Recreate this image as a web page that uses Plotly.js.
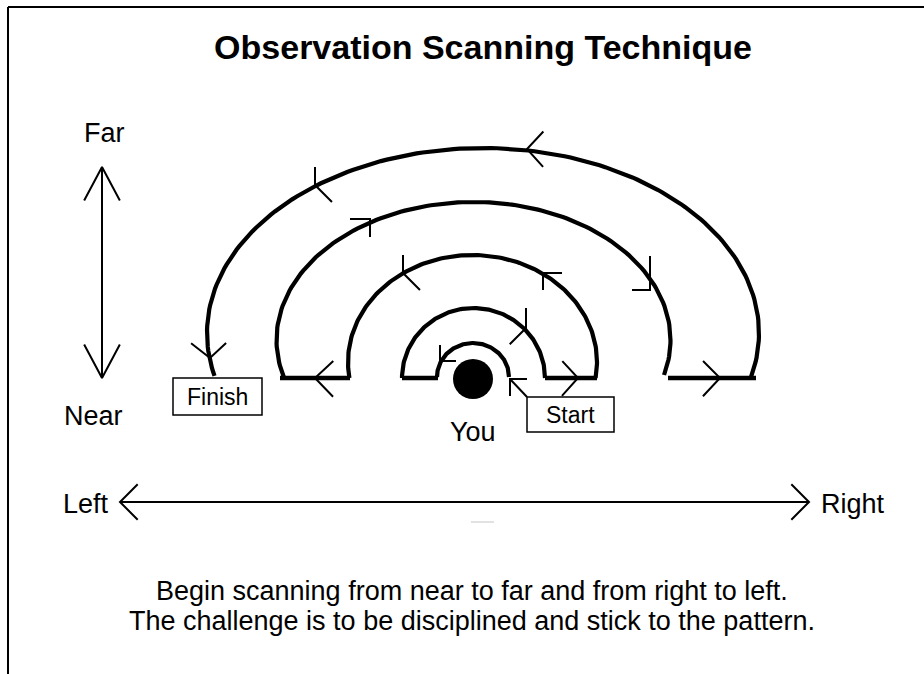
<!DOCTYPE html>
<html>
<head>
<meta charset="utf-8">
<script src="https://cdn.plot.ly/plotly-3.0.1.min.js"></script>
<style>html,body{margin:0;padding:0;background:#fff;}#chart{width:924px;height:674px;}</style>
</head>
<body>
<div id="chart"></div>
<script>
// ---- Diagram geometry (pixel-space data, y grows downward) ----
// Scan arcs (elliptical), innermost to outermost
const arcCx = [473, 473.5, 472.5, 473.5, 483];
const arcCy = [377, 378, 362, 340, 333];
const arcRx = [36, 71.5, 124.5, 197, 276];
const arcRy = [34, 70, 107, 138, 185];
const arcFromDeg = [0, 0, -8.6, -14.7, -14.1];
const arcToDeg = [180, 180, 188.6, 196, 193.4];

// Connecting baseline segments
const segX0 = [402, 545, 280, 668];
const segX1 = [438, 597, 350, 756];
const segY = [378, 378, 378, 378];

// Direction arrowheads: tip + two strokes (angle in deg, 0=east, 90=south; length px)
const tipX = [527, 315, 370, 650, 403, 543, 526, 440, 210, 315, 578, 720, 510];
const tipY = [149, 185, 219, 290, 273, 273, 328, 361, 358, 378, 378, 378, 379];
const angA = [-47, -90, 180, -90, -90, 0, -90, -90, -142, -43, -133, -135, 0];
const lenA = [24, 18, 20, 34, 18, 19, 20, 16, 24, 25, 23, 24, 17];
const angB = [48, 45, 90, 180, 45, 90, 135, 0, -43, 46, 132, 133, 90];
const lenB = [24, 24, 18, 18, 24, 17, 23, 16, 22, 26, 24, 25, 17];

// "You" marker
const youX = [473];
const youY = [379];

// Label boxes
const boxLabels = ["Finish", "Start"];
const boxX0 = [173, 527];
const boxX1 = [262, 614];
const boxY0 = [378, 397];
const boxY1 = [415, 432];

// Axis arrows (Near/Far, Left/Right)
const vArrowX = 102, vArrowTop = 167, vArrowBottom = 378;
const hArrowY = 502, hArrowLeft = 120, hArrowRight = 809;

// Text labels
const labelText = ["Far", "Near", "Left", "Right", "You"];
const labelX = [104, 93, 86, 853, 473];
const labelY = [133, 416, 504, 504, 432];
const noteLines = ["Begin scanning from near to far and from right to left.",
                   "The challenge is to be disciplined and stick to the pattern."];
const noteY = [591, 621];

// ---- Build traces ----
const FONT = "Liberation Sans, Arial, Helvetica, sans-serif";
const traces = [];
const rad = d => d * Math.PI / 180;

// Arcs
for (let i = 0; i < arcCx.length; i++) {
  const xs = [], ys = [];
  const n = 160;
  for (let k = 0; k <= n; k++) {
    const t = rad(arcFromDeg[i] + (arcToDeg[i] - arcFromDeg[i]) * k / n);
    xs.push(arcCx[i] + arcRx[i] * Math.cos(t));
    ys.push(arcCy[i] - arcRy[i] * Math.sin(t));
  }
  traces.push({x: xs, y: ys, type: "scatter", mode: "lines",
    line: {color: "#000", width: 4.2}, hoverinfo: "skip", showlegend: false});
}
// Baseline segments
for (let i = 0; i < segX0.length; i++) {
  traces.push({x: [segX0[i], segX1[i]], y: [segY[i], segY[i]], type: "scatter", mode: "lines",
    line: {color: "#000", width: 4.5}, hoverinfo: "skip", showlegend: false});
}
// Arrowheads
{
  const xs = [], ys = [];
  for (let i = 0; i < tipX.length; i++) {
    xs.push(tipX[i] + lenA[i] * Math.cos(rad(angA[i])), tipX[i], tipX[i] + lenB[i] * Math.cos(rad(angB[i])), null);
    ys.push(tipY[i] + lenA[i] * Math.sin(rad(angA[i])), tipY[i], tipY[i] + lenB[i] * Math.sin(rad(angB[i])), null);
  }
  // Start pointer tail (from Start box corner to the start point)
  xs.push(boxX0[1], tipX[12], null);
  ys.push(boxY0[1], tipY[12], null);
  traces.push({x: xs, y: ys, type: "scatter", mode: "lines",
    line: {color: "#000", width: 2}, hoverinfo: "skip", showlegend: false});
}
// Axis double arrows
{
  const vl = 38, va = 28, hl = 25, ha = 45;
  const xs = [vArrowX, vArrowX, null,
    vArrowX - vl * Math.sin(rad(va)), vArrowX, vArrowX + vl * Math.sin(rad(va)), null,
    vArrowX - vl * Math.sin(rad(va)), vArrowX, vArrowX + vl * Math.sin(rad(va)), null,
    hArrowLeft, hArrowRight, null,
    hArrowLeft + hl * Math.cos(rad(ha)), hArrowLeft, hArrowLeft + hl * Math.cos(rad(ha)), null,
    hArrowRight - hl * Math.cos(rad(ha)), hArrowRight, hArrowRight - hl * Math.cos(rad(ha))];
  const ys = [vArrowTop, vArrowBottom, null,
    vArrowTop + vl * Math.cos(rad(va)), vArrowTop, vArrowTop + vl * Math.cos(rad(va)), null,
    vArrowBottom - vl * Math.cos(rad(va)), vArrowBottom, vArrowBottom - vl * Math.cos(rad(va)), null,
    hArrowY, hArrowY, null,
    hArrowY - hl * Math.sin(rad(ha)), hArrowY, hArrowY + hl * Math.sin(rad(ha)), null,
    hArrowY - hl * Math.sin(rad(ha)), hArrowY, hArrowY + hl * Math.sin(rad(ha))];
  traces.push({x: xs, y: ys, type: "scatter", mode: "lines",
    line: {color: "#000", width: 2}, hoverinfo: "skip", showlegend: false});
}
// faint artifact under the left/right arrow
traces.push({x: [471, 494], y: [522, 522], type: "scatter", mode: "lines",
  line: {color: "#d8d8d8", width: 1.5}, hoverinfo: "skip", showlegend: false});
// You dot
traces.push({x: youX, y: youY, type: "scatter", mode: "markers",
  marker: {color: "#000", size: 40, line: {width: 0}}, hoverinfo: "skip", showlegend: false});

// ---- Shapes ----
const shapes = [
  {type: "line", xref: "x", yref: "y", x0: 8, x1: 924, y0: 7, y1: 7, line: {color: "#000", width: 2}},
  {type: "line", xref: "x", yref: "y", x0: 8, x1: 8, y0: 7, y1: 674, line: {color: "#000", width: 2}}
];
for (let i = 0; i < boxLabels.length; i++) {
  shapes.push({type: "rect", xref: "x", yref: "y", x0: boxX0[i], x1: boxX1[i], y0: boxY0[i], y1: boxY1[i],
    line: {color: "#000", width: 1.5}, fillcolor: "#fff", layer: "above"});
}

// ---- Annotations ----
const annotations = [];
for (let i = 0; i < labelText.length; i++) {
  annotations.push({x: labelX[i], y: labelY[i], xref: "x", yref: "y", text: labelText[i], showarrow: false,
    xanchor: "center", yanchor: "middle", font: {family: FONT, size: 27, color: "#000"}});
}
for (let i = 0; i < boxLabels.length; i++) {
  annotations.push({x: (boxX0[i] + boxX1[i]) / 2, y: (boxY0[i] + boxY1[i]) / 2, xref: "x", yref: "y",
    text: boxLabels[i], showarrow: false, xanchor: "center", yanchor: "middle",
    font: {family: FONT, size: 23, color: "#000"}});
}
for (let i = 0; i < noteLines.length; i++) {
  annotations.push({x: 472, y: noteY[i], xref: "x", yref: "y", text: noteLines[i], showarrow: false,
    xanchor: "center", yanchor: "middle", font: {family: FONT, size: 27, color: "#000"}});
}

const layout = {
  width: 924, height: 674,
  margin: {l: 0, r: 0, t: 0, b: 0, pad: 0},
  paper_bgcolor: "#fff", plot_bgcolor: "#fff",
  title: {text: "Observation Scanning Technique", xref: "container", yref: "container",
    x: 483 / 924, y: 1 - 47 / 674, xanchor: "center", yanchor: "middle",
    font: {family: FONT, size: 34, color: "#000", weight: 700}},
  xaxis: {range: [0, 924], visible: false, fixedrange: true},
  yaxis: {range: [674, 0], visible: false, fixedrange: true},
  shapes: shapes,
  annotations: annotations,
  showlegend: false
};

Plotly.newPlot("chart", traces, layout, {staticPlot: true, displayModeBar: false});
</script>
</body>
</html>
